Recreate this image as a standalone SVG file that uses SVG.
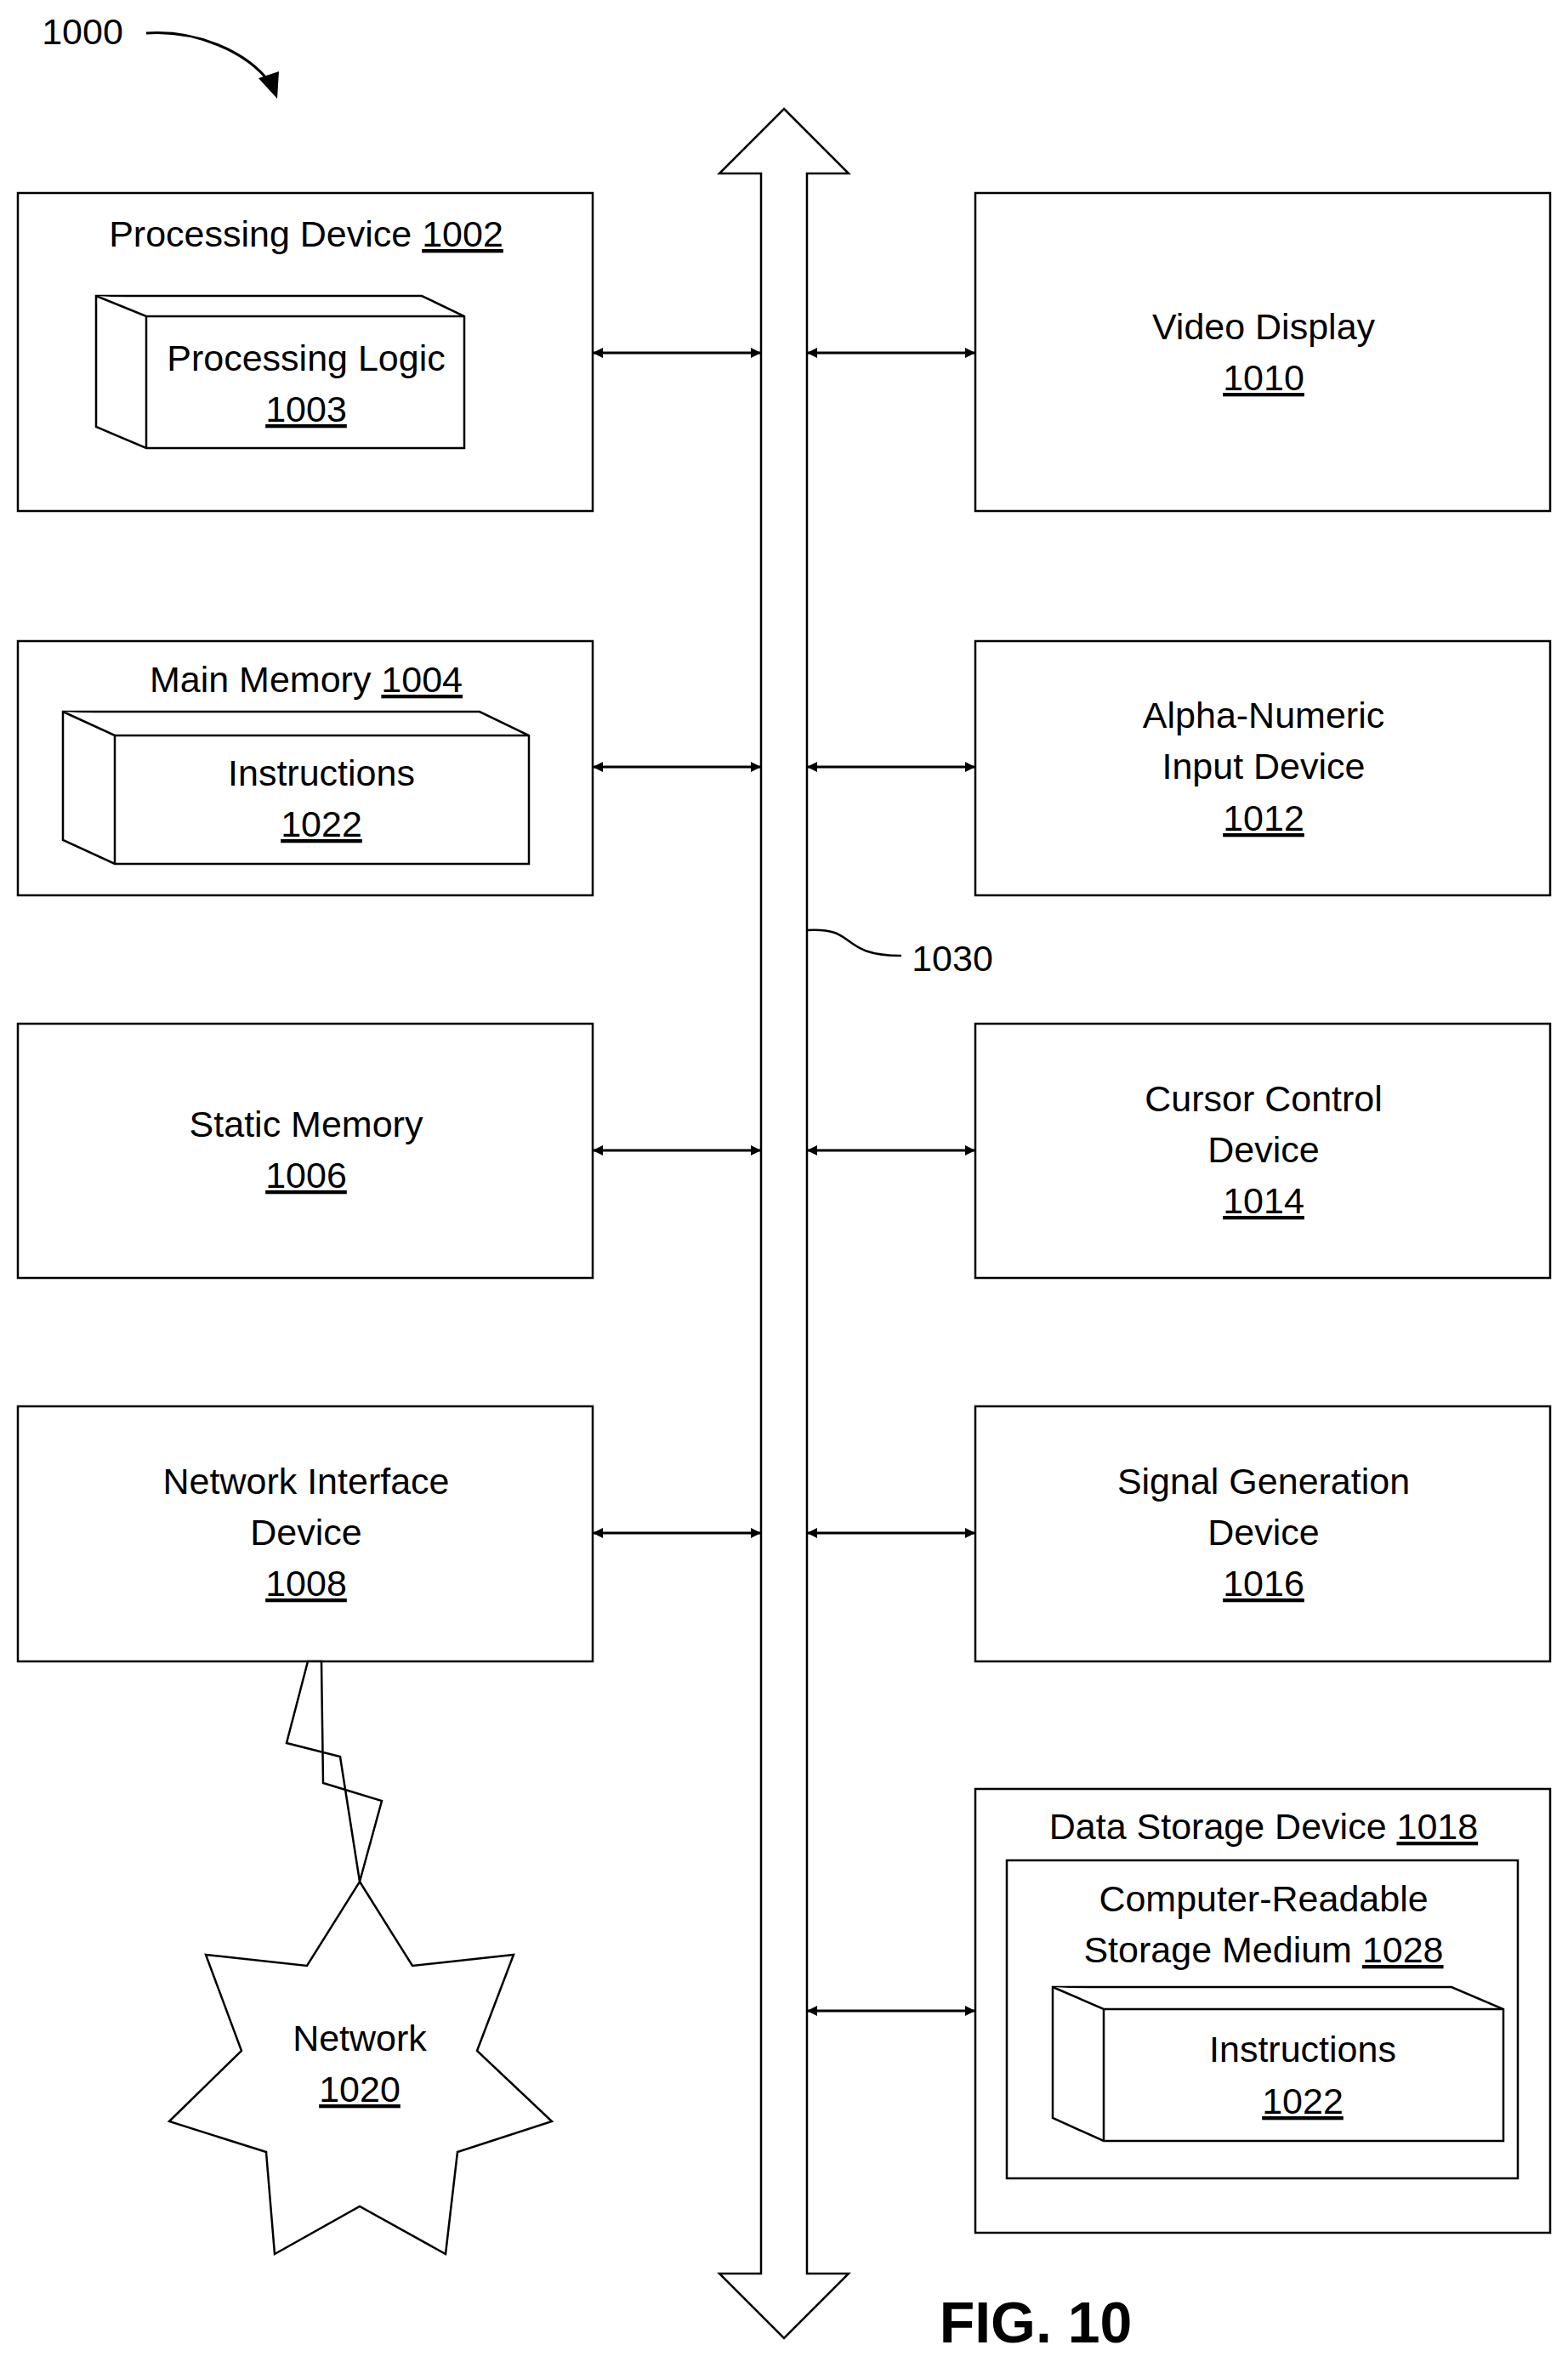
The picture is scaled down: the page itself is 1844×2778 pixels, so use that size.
<svg xmlns="http://www.w3.org/2000/svg" width="1844" height="2778" viewBox="0 0 1844 2778">
<style>
.b{fill:#fff;stroke:#000;stroke-width:2.5}
.t{font-family:"Liberation Sans Narrow","Liberation Sans",sans-serif;font-size:43px;text-anchor:middle;fill:#000}
.u{text-decoration:underline}
.c{stroke:#000;stroke-width:3;fill:none;marker-start:url(#a);marker-end:url(#a)}
</style>
<defs>
<marker id="a" viewBox="0 0 10 10" refX="10" refY="5" markerWidth="12" markerHeight="12" markerUnits="userSpaceOnUse" orient="auto-start-reverse"><path d="M0,0L10,5L0,10z" fill="#000"/></marker>
<marker id="a" viewBox="0 0 10 10" refX="10" refY="5" markerWidth="12" markerHeight="12" orient="auto-start-reverse"><path d="M0,0L10,5L0,10z"/></marker>
</defs>
<g id="label1000">
<text class="t" x="97" y="52">1000</text>
<path d="M172,39 C230,35 290,60 318,98" fill="none" stroke="#000" stroke-width="3"/>
<path d="M304,92 L326,116 L328,84 z" fill="#000"/>
</g>
<g id="bus"><polygon class="b" points="922,128 998,204 949,204 949,2674 998,2674 922,2750 846,2674 895,2674 895,204 846,204"/></g>
<g id="label1030">
<path d="M949,1094 C1010,1090 985,1124 1060,1124" fill="none" stroke="#000" stroke-width="2.5"/>
<text class="t" x="1120" y="1142">1030</text>
</g>
<g id="n1002">
<rect class="b" x="21" y="227" width="676" height="374"/>
<text class="t" x="360" y="290">Processing Device <tspan class="u">1002</tspan></text>
<polygon class="b" points="113,348 496,348 546,372 546,527 172,527 113,502"/>
<path d="M113,348 L172,372 L546,372 M172,372 L172,527" class="b" fill="none"/>
<text class="t" x="360" y="436">Processing Logic</text>
<text class="t u" x="360" y="496">1003</text>
</g>
<g id="n1004">
<rect class="b" x="21" y="754" width="676" height="299"/>
<text class="t" x="360" y="814">Main Memory <tspan class="u">1004</tspan></text>
<polygon class="b" points="74,837 564,837 622,865 622,1016 135,1016 74,988"/>
<path d="M74,837 L135,865 L622,865 M135,865 L135,1016" class="b" fill="none"/>
<text class="t" x="378" y="924">Instructions</text>
<text class="t u" x="378" y="984">1022</text>
</g>
<g id="n1006">
<rect class="b" x="21" y="1204" width="676" height="299"/>
<text class="t" x="360" y="1337">Static Memory</text>
<text class="t u" x="360" y="1397">1006</text>
</g>
<g id="n1008">
<rect class="b" x="21" y="1654" width="676" height="300"/>
<text class="t" x="360" y="1757">Network Interface</text>
<text class="t" x="360" y="1817">Device</text>
<text class="t u" x="360" y="1877">1008</text>
</g>
<g id="n1010">
<rect class="b" x="1147" y="227" width="676" height="374"/>
<text class="t" x="1486" y="399">Video Display</text>
<text class="t u" x="1486" y="459">1010</text>
</g>
<g id="n1012">
<rect class="b" x="1147" y="754" width="676" height="299"/>
<text class="t" x="1486" y="856">Alpha-Numeric</text>
<text class="t" x="1486" y="916">Input Device</text>
<text class="t u" x="1486" y="977">1012</text>
</g>
<g id="n1014">
<rect class="b" x="1147" y="1204" width="676" height="299"/>
<text class="t" x="1486" y="1307">Cursor Control</text>
<text class="t" x="1486" y="1367">Device</text>
<text class="t u" x="1486" y="1427">1014</text>
</g>
<g id="n1016">
<rect class="b" x="1147" y="1654" width="676" height="300"/>
<text class="t" x="1486" y="1757">Signal Generation</text>
<text class="t" x="1486" y="1817">Device</text>
<text class="t u" x="1486" y="1877">1016</text>
</g>
<g id="n1018">
<rect class="b" x="1147" y="2104" width="676" height="522"/>
<text class="t" x="1486" y="2163">Data Storage Device <tspan class="u">1018</tspan></text>
<rect class="b" x="1184" y="2188" width="601" height="374"/>
<text class="t" x="1486" y="2248">Computer-Readable</text>
<text class="t" x="1486" y="2308">Storage Medium <tspan class="u">1028</tspan></text>
<polygon class="b" points="1238,2337 1707,2337 1768,2363 1768,2518 1298,2518 1238,2491"/>
<path d="M1238,2337 L1298,2363 L1768,2363 M1298,2363 L1298,2518" class="b" fill="none"/>
<text class="t" x="1532" y="2425">Instructions</text>
<text class="t u" x="1532" y="2486">1022</text>
</g>
<g id="n1020">
<polygon class="b" points="423,2213 485,2312 604,2299 561,2412 649,2495 538,2531 524,2651 423,2595 323,2651 313,2531 199,2495 284,2412 242,2299 361,2312"/>
<text class="t" x="423" y="2412">Network</text>
<text class="t u" x="423" y="2472">1020</text>
</g>
<g id="connectors">
<polygon points="362,1954 337,2050 400,2066 423,2213 449,2118 380,2097 378,1954" fill="#fff" stroke="#000" stroke-width="2.5"/>
<line class="c" x1="697" y1="415" x2="895" y2="415"/>
<line class="c" x1="949" y1="415" x2="1147" y2="415"/>
<line class="c" x1="697" y1="902" x2="895" y2="902"/>
<line class="c" x1="949" y1="902" x2="1147" y2="902"/>
<line class="c" x1="697" y1="1353" x2="895" y2="1353"/>
<line class="c" x1="949" y1="1353" x2="1147" y2="1353"/>
<line class="c" x1="697" y1="1803" x2="895" y2="1803"/>
<line class="c" x1="949" y1="1803" x2="1147" y2="1803"/>
<line class="c" x1="949" y1="2365" x2="1147" y2="2365"/>
</g>
<text x="1218" y="2755" font-family="Liberation Sans,sans-serif" font-weight="bold" font-size="68" text-anchor="middle">FIG. 10</text>
</svg>
